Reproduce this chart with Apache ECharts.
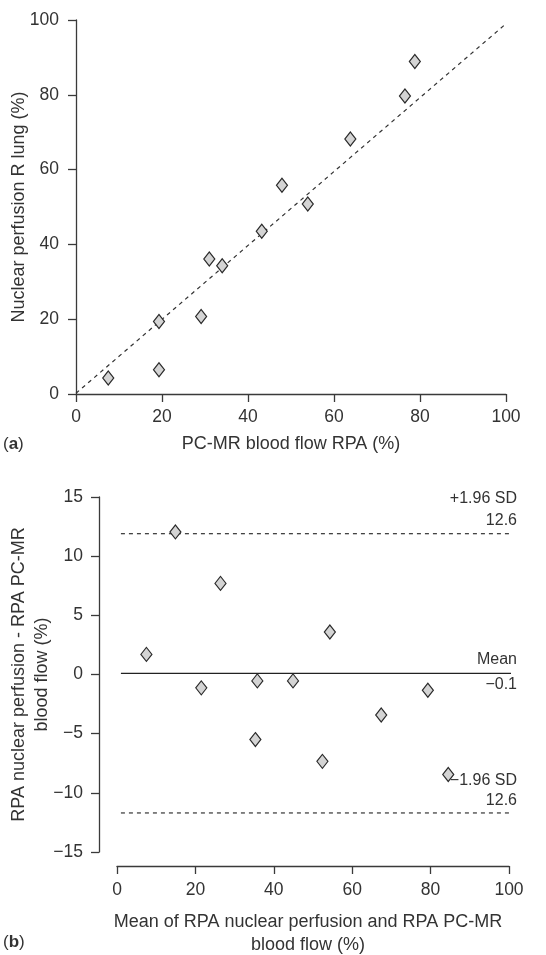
<!DOCTYPE html>
<html><head><meta charset="utf-8">
<script src="https://cdn.jsdelivr.net/npm/echarts@6/dist/echarts.min.js"></script>
<style>html,body{margin:0;padding:0;background:#fff}#c{width:546px;height:955px}</style>
</head><body><div id="c"></div>
<script>
// Panel (a): PC-MR blood flow RPA vs nuclear perfusion R lung
const flowRPA = [7.5, 19.3, 19.3, 29.1, 31.0, 34.0, 43.2, 47.9, 53.9, 63.8, 76.5, 78.8];
const perfusionR = [4.3, 6.5, 19.4, 20.7, 36.1, 34.3, 43.5, 55.8, 50.8, 68.2, 79.7, 88.9];
const fitX = [0, 100];
const fitY = [0.2, 99];
const ticksA = [0, 20, 40, 60, 80, 100];

// Panel (b): Bland-Altman
const meanVals = [7.5, 14.9, 21.5, 26.4, 35.3, 35.8, 44.9, 52.4, 54.3, 67.4, 79.3, 84.5];
const diffVals = [1.7, 12.05, -1.13, 7.7, -5.5, -0.54, -0.54, -7.34, 3.59, -3.42, -1.33, -8.45];
const limitX = [1, 100.6];
const upperLimit = 11.9;
const meanDiff = 0.1;
const lowerLimit = -11.7;
const ticksBy = [-15, -10, -5, 0, 5, 10, 15];
const ticksBx = [0, 20, 40, 60, 80, 100];

const FONT = "'Liberation Sans', Arial, Helvetica, sans-serif";
const TXT = '#333';
const AX = '#3a3a3a';
const TICK_FS = 17.5;
const NAME_FS = 18;

const chart = echarts.init(document.getElementById('c'), null, {renderer: 'canvas'});
const fmt = v => (v < 0 ? '\u2212' + Math.abs(v) : String(v));
const lab = (margin) => ({color: TXT, fontSize: TICK_FS, fontFamily: FONT, margin: margin, formatter: fmt});
const axisCommon = (extra) => Object.assign({
  type: 'value',
  splitLine: {show: false},
  axisLine: {show: true, onZero: false, lineStyle: {color: AX, width: 1.3}},
  axisTick: {show: true, inside: false, length: 8, lineStyle: {color: AX, width: 1.3}},
  nameTextStyle: {color: TXT, fontSize: NAME_FS, fontFamily: FONT, lineHeight: 23},
  nameLocation: 'middle',
  nameMoveOverlap: false
}, extra);

const diamond = {
  type: 'scatter', symbol: 'diamond', symbolSize: [11, 14],
  itemStyle: {color: '#d4d4d4', borderColor: '#2a2a2a', borderWidth: 1.2, opacity: 1},
  z: 5
};

const option = {
  animation: false,
  backgroundColor: '#fff',
  grid: [
    {left: 76, right: 40, top: 20, bottom: 561, containLabel: false, outerBoundsMode: 'none'},
    {left: 117, right: 37, top: 497, bottom: 103, containLabel: false, outerBoundsMode: 'none'}
  ],
  xAxis: [
    axisCommon({gridIndex: 0, min: 0, max: 100, interval: 20,
      name: 'PC-MR blood flow RPA (%)', nameGap: 39, axisLabel: lab(14)}),
    axisCommon({gridIndex: 1, min: 0, max: 100, interval: 20, offset: 14,
      name: 'Mean of RPA nuclear perfusion and RPA PC-MR\nblood flow (%)', nameGap: 45,
      axisLabel: lab(15), nameTextStyle: {color: TXT, fontSize: NAME_FS, fontFamily: FONT, lineHeight: 23, padding: [0, 10, 0, 0]}})
  ],
  yAxis: [
    axisCommon({gridIndex: 0, min: 0, max: 100, interval: 20,
      name: 'Nuclear perfusion R lung (%)', nameGap: 45, axisLabel: lab(17)}),
    axisCommon({gridIndex: 1, min: -15, max: 15, interval: 5, offset: 18,
      name: 'RPA nuclear perfusion - RPA PC-MR\nblood flow (%)', nameGap: 45, axisLabel: lab(16)})
  ],
  series: [
    {type: 'line', xAxisIndex: 0, yAxisIndex: 0, symbol: 'none', silent: true,
      data: fitX.map((x, i) => [x, fitY[i]]),
      lineStyle: {color: '#333', width: 1.2, type: [4, 4]}, z: 2},
    Object.assign({}, diamond, {xAxisIndex: 0, yAxisIndex: 0,
      data: flowRPA.map((x, i) => [x, perfusionR[i]])}),
    {type: 'line', xAxisIndex: 1, yAxisIndex: 1, symbol: 'none', silent: true,
      data: limitX.map(x => [x, upperLimit]),
      lineStyle: {color: '#333', width: 1.2, type: [4, 4]}, z: 2},
    {type: 'line', xAxisIndex: 1, yAxisIndex: 1, symbol: 'none', silent: true,
      data: limitX.map(x => [x, meanDiff]),
      lineStyle: {color: '#222', width: 1.3, type: 'solid'}, z: 2},
    {type: 'line', xAxisIndex: 1, yAxisIndex: 1, symbol: 'none', silent: true,
      data: limitX.map(x => [x, lowerLimit]),
      lineStyle: {color: '#333', width: 1.2, type: [4, 4]}, z: 2},
    Object.assign({}, diamond, {xAxisIndex: 1, yAxisIndex: 1,
      data: meanVals.map((x, i) => [x, diffVals[i]])})
  ],
  graphic: [
    {type: 'text', left: 3, top: 436, style: {text: '({b|a})', fontSize: 17, fontFamily: FONT, fill: TXT,
      rich: {b: {fontWeight: 'bold', fontSize: 17, fontFamily: FONT, fill: TXT}}}},
    {type: 'text', left: 3, top: 934, style: {text: '({b|b})', fontSize: 17, fontFamily: FONT, fill: TXT,
      rich: {b: {fontWeight: 'bold', fontSize: 17, fontFamily: FONT, fill: TXT}}}},
    {type: 'text', right: 29, top: 491, style: {text: '+1.96 SD', fontSize: 16, fontFamily: FONT, fill: TXT}},
    {type: 'text', right: 29, top: 513, style: {text: '12.6', fontSize: 16, fontFamily: FONT, fill: TXT}},
    {type: 'text', right: 29, top: 652, style: {text: 'Mean', fontSize: 16, fontFamily: FONT, fill: TXT}},
    {type: 'text', right: 29, top: 677, style: {text: '\u22120.1', fontSize: 16, fontFamily: FONT, fill: TXT}},
    {type: 'text', right: 29, top: 773, style: {text: '\u22121.96 SD', fontSize: 16, fontFamily: FONT, fill: TXT}},
    {type: 'text', right: 29, top: 793, style: {text: '12.6', fontSize: 16, fontFamily: FONT, fill: TXT}}
  ]
};
chart.setOption(option);
</script>
</body></html>
